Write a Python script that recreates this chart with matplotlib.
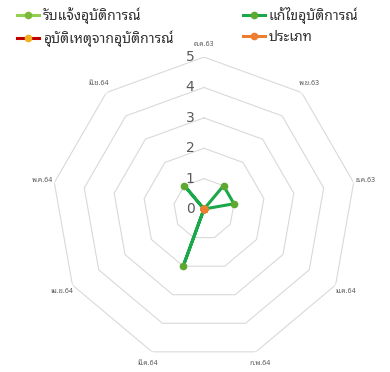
import numpy as np
import matplotlib
matplotlib.use('Agg')
import matplotlib.pyplot as plt

THAI = ['Noto Sans Thai Looped', 'DejaVu Sans']

# data
months = ['ต.ค.63', 'พ.ย.63', 'ธ.ค.63', 'ม.ค.64', 'ก.พ.64',
          'มี.ค.64', 'เม.ย.64', 'พ.ค.64', 'มิ.ย.64']
received = [0, 0, 0, 0, 0, 0, 0, 0, 0]      # รับแจ้งอุบัติการณ์
fixed = [0, 1, 1, 0, 0, 2, 0, 0, 1]         # แก้ไขอุบัติการณ์
accident = [0, 0, 0, 0, 0, 0, 0, 0, 0]      # อุบัติเหตุจากอุบัติการณ์
category = [0, 0, 0, 0, 0, 0, 0, 0, 0]      # ประเภท
r_ticks = [0, 1, 2, 3, 4, 5]

series = [
    ('รับแจ้งอุบัติการณ์', received, '#92d050', '#7cb83a'),
    ('แก้ไขอุบัติการณ์', fixed, '#1aa84a', '#5fa830'),
    ('อุบัติเหตุจากอุบัติการณ์', accident, '#c00000', '#f0b020'),
    ('ประเภท', category, '#ed7d31', '#ed7d31'),
]

fig = plt.figure(figsize=(3.9, 3.72), dpi=100)
ax = fig.add_axes([0.1333, 0.0296, 0.7795, 0.817], projection='polar')
ax.set_theta_offset(np.pi / 2)
ax.set_theta_direction(-1)
ax.set_ylim(0, 5)
ax.grid(False)
ax.spines['polar'].set_visible(False)
ax.set_xticks([])
ax.set_yticks([])

n = len(months)
ang = np.linspace(0, 2 * np.pi, n, endpoint=False)
ang_c = np.append(ang, ang[0])

# polygon rings
for r in r_ticks[1:]:
    ax.plot(ang_c, [r] * (n + 1), color='#d9d9d9', lw=0.8, zorder=1)

# ring labels
for r in r_ticks:
    ax.annotate(str(r), xy=(0, r), xytext=(-10, 0), textcoords='offset points',
                ha='center', va='center', fontsize=10, color='#595959')

# month labels
for a, m in zip(ang, months):
    ax.text(a, 5.4, m, ha='center', va='center', fontsize=5, color='#595959',
            family=THAI)

handles = {}
for name, vals, lc, mc in series:
    v = list(vals) + [vals[0]]
    h, = ax.plot(ang_c, v, color=lc, lw=2.2, marker='o', markersize=4.5,
                 markerfacecolor=mc, markeredgecolor=mc, zorder=3)
    handles[name] = h

order = ['รับแจ้งอุบัติการณ์', 'อุบัติเหตุจากอุบัติการณ์', 'แก้ไขอุบัติการณ์', 'ประเภท']
leg = fig.legend([handles[k] for k in order], order, ncol=2, loc='upper left',
                 bbox_to_anchor=(0.044, 0.982), frameon=False, borderpad=0,
                 borderaxespad=0, prop={'family': THAI, 'size': 10},
                 handlelength=1.6, handletextpad=0.25, columnspacing=5.0,
                 labelspacing=0.45)
for t in leg.get_texts():
    t.set_color('#333333')

fig.savefig('out.png', dpi=100)
